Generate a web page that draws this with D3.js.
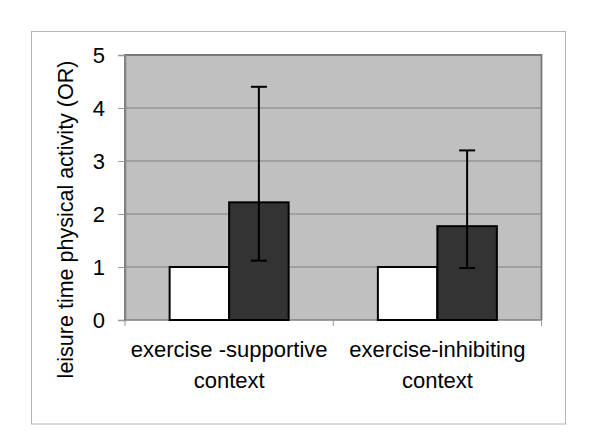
<!DOCTYPE html>
<html>
<head>
<meta charset="utf-8">
<script src="https://cdn.jsdelivr.net/npm/d3@7"></script>
<style>
  html, body { margin: 0; padding: 0; background: #ffffff; }
  svg { display: block; font-family: "Liberation Sans", Arial, sans-serif; }
</style>
</head>
<body>
<svg id="chart" width="600" height="446"></svg>
<script>
// ---- data ----
const categories = ["exercise -supportive|context", "exercise-inhibiting|context"];
const seriesNames = ["reference", "exposed"];
const referenceValues = [1, 1];
const exposedValues = [2.22, 1.77];
const errorLow = [1.12, 0.98];
const errorHigh = [4.40, 3.20];
const yTicks = [0, 1, 2, 3, 4, 5];
const yTitle = "leisure time physical activity (OR)";

const svg = d3.select("#chart");

// outer frame
svg.append("rect")
  .attr("x", 31.5).attr("y", 31.5).attr("width", 534).attr("height", 392.5)
  .attr("fill", "#ffffff").attr("stroke", "#b4b4b4").attr("stroke-width", 1);

const plot = { left: 125, right: 541.5, top: 55, bottom: 320 };

const y = d3.scaleLinear().domain([0, 5]).range([plot.bottom, plot.top]);
const x = d3.scaleBand().domain(categories).range([plot.left, plot.right]).paddingInner(0).paddingOuter(0);
const xs = d3.scaleBand().domain(seriesNames).range([0, x.bandwidth()]).paddingInner(0).paddingOuter(0.75);

// plot background
svg.append("rect")
  .attr("x", plot.left).attr("y", plot.top)
  .attr("width", plot.right - plot.left).attr("height", plot.bottom - plot.top)
  .attr("fill", "#c0c0c0");

// gridlines
svg.append("g").selectAll("line").data(yTicks.filter(d => d > 0 && d < 5)).join("line")
  .attr("x1", plot.left).attr("x2", plot.right)
  .attr("y1", d => y(d)).attr("y2", d => y(d))
  .attr("stroke", "#808080").attr("stroke-width", 1.2);

// plot border (top, right, left)
svg.append("path")
  .attr("d", `M${plot.left},${plot.bottom} V${plot.top} H${plot.right} V${plot.bottom}`)
  .attr("fill", "none").attr("stroke", "#7a7a7a").attr("stroke-width", 1.8);

// y axis
const yAxis = d3.axisLeft(y).tickValues(yTicks).tickFormat(d3.format("d")).tickSize(7).tickPadding(13);
const gy = svg.append("g").attr("transform", `translate(${plot.left},0)`).call(yAxis);
gy.attr("font-size", null).attr("font-family", null);
gy.select(".domain").attr("stroke", "#808080").attr("stroke-width", 1.5);
gy.selectAll(".tick line").attr("stroke", "#9a9a9a").attr("stroke-width", 1);
gy.selectAll(".tick text").style("font-size", "22px").attr("fill", "#000")
  .style("font-family", "Liberation Sans, Arial, sans-serif");

// x axis (category ticks at band boundaries)
const boundaries = [plot.left].concat(categories.map(c => x(c) + x.bandwidth()));
svg.append("g").selectAll("line").data(boundaries).join("line")
  .attr("x1", d => d).attr("x2", d => d)
  .attr("y1", plot.bottom).attr("y2", plot.bottom + 6)
  .attr("stroke", "#9a9a9a").attr("stroke-width", 1);
svg.append("line")
  .attr("x1", plot.left).attr("x2", plot.right)
  .attr("y1", plot.bottom).attr("y2", plot.bottom)
  .attr("stroke", "#808080").attr("stroke-width", 1.5);

// bars
const barData = [];
categories.forEach((c, i) => {
  barData.push({ cat: c, s: "reference", v: referenceValues[i] });
  barData.push({ cat: c, s: "exposed", v: exposedValues[i] });
});
svg.append("g").selectAll("rect").data(barData).join("rect")
  .attr("x", d => x(d.cat) + xs(d.s))
  .attr("y", d => y(d.v))
  .attr("width", xs.bandwidth())
  .attr("height", d => y(0) - y(d.v))
  .attr("fill", d => d.s === "reference" ? "#ffffff" : "#333333")
  .attr("stroke", "#000").attr("stroke-width", 2);

// error bars
const eb = svg.append("g");
categories.forEach((c, i) => {
  const cx = x(c) + xs("exposed") + xs.bandwidth() / 2;
  eb.append("line").attr("x1", cx).attr("x2", cx)
    .attr("y1", y(errorLow[i])).attr("y2", y(errorHigh[i]))
    .attr("stroke", "#000").attr("stroke-width", 2);
  [errorLow[i], errorHigh[i]].forEach(v => {
    eb.append("line").attr("x1", cx - 8).attr("x2", cx + 8)
      .attr("y1", y(v)).attr("y2", y(v))
      .attr("stroke", "#000").attr("stroke-width", 2);
  });
});

// category labels
categories.forEach(c => {
  const lines = c.split("|");
  const t = svg.append("text")
    .attr("x", x(c) + x.bandwidth() / 2)
    .attr("text-anchor", "middle")
    .attr("font-size", 22).attr("fill", "#000");
  lines.forEach((ln, k) => {
    t.append("tspan").attr("x", x(c) + x.bandwidth() / 2).attr("y", 357 + k * 30.5).text(ln);
  });
});

// y title
svg.append("text")
  .attr("transform", `translate(73,${(58 + 381) / 2}) rotate(-90)`)
  .attr("text-anchor", "middle")
  .attr("font-size", 21.5).attr("fill", "#000")
  .text(yTitle);
</script>
</body>
</html>
